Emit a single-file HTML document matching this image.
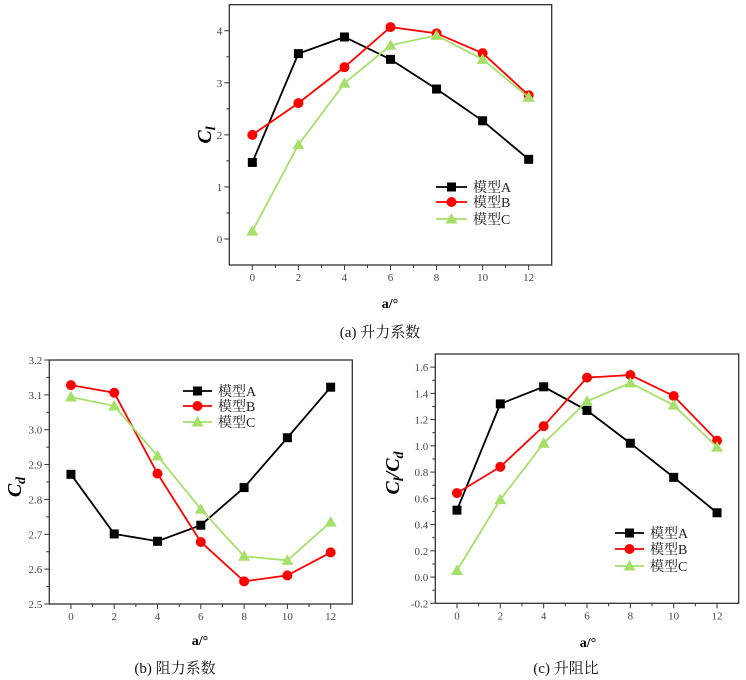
<!DOCTYPE html>
<html><head><meta charset="utf-8"><style>
html,body{margin:0;padding:0;background:#fff;}
svg{display:block;font-family:"Liberation Serif","Noto Serif CJK SC",serif;}
</style></head><body>
<svg id="s" width="746" height="680" viewBox="0 0 746 680"></svg>
<script>
const xCats=[0,2,4,6,8,10,12];
const clA=[1.47,3.56,3.88,3.45,2.88,2.27,1.53];
const clB=[2.0,2.61,3.3,4.07,3.95,3.57,2.76];
const clC=[0.15,1.81,2.99,3.72,3.91,3.45,2.72];
const clTicks=[0,1,2,3,4];
const cdA=[2.872,2.701,2.680,2.726,2.834,2.977,3.122];
const cdB=[3.128,3.106,2.874,2.678,2.565,2.582,2.648];
const cdC=[3.094,3.068,2.925,2.772,2.637,2.625,2.735];
const cdTicks=[2.5,2.6,2.7,2.8,2.9,3.0,3.1,3.2];
const ldA=[0.51,1.32,1.45,1.27,1.02,0.76,0.49];
const ldB=[0.64,0.84,1.15,1.52,1.54,1.38,1.04];
const ldC=[0.05,0.59,1.02,1.34,1.48,1.31,0.99];
const ldTicks=[-0.2,0,0.2,0.4,0.6,0.8,1.0,1.2,1.4,1.6];
const seriesNames=["模型A","模型B","模型C"];
const colors=["#000","#f00","#a6e06a"];
const NS="http://www.w3.org/2000/svg";
const svg=document.getElementById('s');
function mk(tag,attrs,parent,text){const e=document.createElementNS(NS,tag);for(const k in attrs)e.setAttribute(k,attrs[k]);if(text!==undefined)e.textContent=text;(parent||svg).appendChild(e);return e;}
function chart(o){
  const g=mk('g',{});
  
  
  const sx=v=>o.x0+(v-o.xmin)/(o.xmax-o.xmin)*(o.x1-o.x0);
  const sy=v=>o.y1-(v-o.ymin)/(o.ymax-o.ymin)*(o.y1-o.y0);
  const fr=mk('rect',{x:o.x0,y:o.y0,width:o.x1-o.x0,height:o.y1-o.y0,fill:'none',stroke:'#333','stroke-width':1.3},g);
  
  
  for(let v=o.xmin+1;v<o.xmax;v++){
    const X=sx(v),maj=xCats.includes(v);
    mk('line',{x1:X,x2:X,y1:o.y1,y2:o.y1+(maj?5:3),stroke:'#333'},g);
    if(maj){const t=mk('text',{x:X,y:o.y1+16,'text-anchor':'middle','font-size':11,fill:'#444'},g,String(v));
      
      }
  }
  o.ticks.forEach((v,i)=>{
    const Y=sy(v);
    mk('line',{x1:o.x0-5,x2:o.x0,y1:Y,y2:Y,stroke:'#333'},g);
    if(i<o.ticks.length-1||o.minorTop){const m=v+(o.ticks[1]-o.ticks[0])/2;if(m<o.ymax){const Ym=sy(m);mk('line',{x1:o.x0-3,x2:o.x0,y1:Ym,y2:Ym,stroke:'#333'},g);}}
    const t=mk('text',{x:o.x0-7,y:Y+4,'text-anchor':'end','font-size':11,fill:'#444'},g,v.toFixed(o.dec));
    
    
  });
  if(o.ymin<o.ticks[0]){const m=o.ticks[0]-(o.ticks[1]-o.ticks[0])/2;if(m>o.ymin){const Ym=sy(m);mk('line',{x1:o.x0-3,x2:o.x0,y1:Ym,y2:Ym,stroke:'#333'},g);}}
  [o.A,o.B,o.C].forEach((d,si)=>{
    const pts=d.map((v,i)=>sx(xCats[i])+','+sy(v)).join(' ');
    const pl=mk('polyline',{points:pts,fill:'none',stroke:colors[si],'stroke-width':1.8},g);
    
    
    d.forEach((v,i)=>{const m=marker(si,sx(xCats[i]),sy(v),g);
      
      });
  });
  seriesNames.forEach((n,si)=>{
    const Y=o.lg.y[si];
    const lg=mk('g',{},g);
    
    
    mk('line',{x1:o.lg.x0,x2:o.lg.x1,y1:Y,y2:Y,stroke:colors[si],'stroke-width':1.8},lg);
    marker(si,(o.lg.x0+o.lg.x1)/2,Y,lg);
    mk('text',{x:o.lg.x1+6,y:Y+5,'font-size':14,fill:'#222'},lg,n);
  });
  const xl=mk('text',{x:o.xlab[0],y:o.xlab[1],'text-anchor':'middle','font-size':14,'font-weight':'bold'},g,'a/°');
  
  
  const yl=mk('text',{x:0,y:0,'text-anchor':'middle','font-size':20,'font-weight':'bold','font-style':'italic',transform:`translate(${o.ylab[0]},${o.ylab[1]}) rotate(-90)`},g);
  yl.innerHTML=o.ytitle;
  
  
  const cp=mk('text',{x:o.cap[0],y:o.cap[1],'text-anchor':'middle','font-size':15,fill:'#111'},g,o.caption);
  
  
}
function marker(si,x,y,p){
  if(si===0)return mk('rect',{x:x-4.5,y:y-4.5,width:9,height:9,fill:'#000'},p);
  if(si===1)return mk('circle',{cx:x,cy:y,r:5,fill:'#f00'},p);
  return mk('polygon',{points:`${x},${y-6} ${x-6},${y+4.5} ${x+6},${y+4.5}`,fill:'#a6e06a'},p);
}
chart({name:'lift-chart',x0:229.3,x1:551.7,y0:4.7,y1:265,xmin:-1,xmax:13,ymin:-0.5,ymax:4.5,ticks:clTicks,dec:0,minorTop:true,
  A:clA,B:clB,C:clC,lg:{x0:436,x1:467,y:[187,202,219]},xlab:[390,308],ylab:[211,135],
  ytitle:'C<tspan font-size="14" dy="4">l</tspan>',cap:[380,337],caption:'(a)  升力系数'});
chart({name:'drag-chart',x0:49.3,x1:352.3,y0:360,y1:604,xmin:-1,xmax:13,ymin:2.5,ymax:3.2,ticks:cdTicks,dec:1,
  A:cdA,B:cdB,C:cdC,lg:{x0:183,x1:212,y:[391,406,422]},xlab:[200,645],ylab:[21,487],
  ytitle:'C<tspan font-size="14" dy="4">d</tspan>',cap:[175,673],caption:'(b)  阻力系数'});
chart({name:'lift-drag-ratio-chart',x0:435.3,x1:738.7,y0:354,y1:603.3,xmin:-1,xmax:13,ymin:-0.2,ymax:1.7,ticks:ldTicks,dec:1,
  A:ldA,B:ldB,C:ldC,lg:{x0:615,x1:644,y:[533,549,566]},xlab:[588,647],ylab:[399,473],
  ytitle:'C<tspan font-size="14" dy="4">l</tspan><tspan dy="-4">/C</tspan><tspan font-size="14" dy="4">d</tspan>',cap:[566,673],caption:'(c)  升阻比'});
</script>
</body></html>
